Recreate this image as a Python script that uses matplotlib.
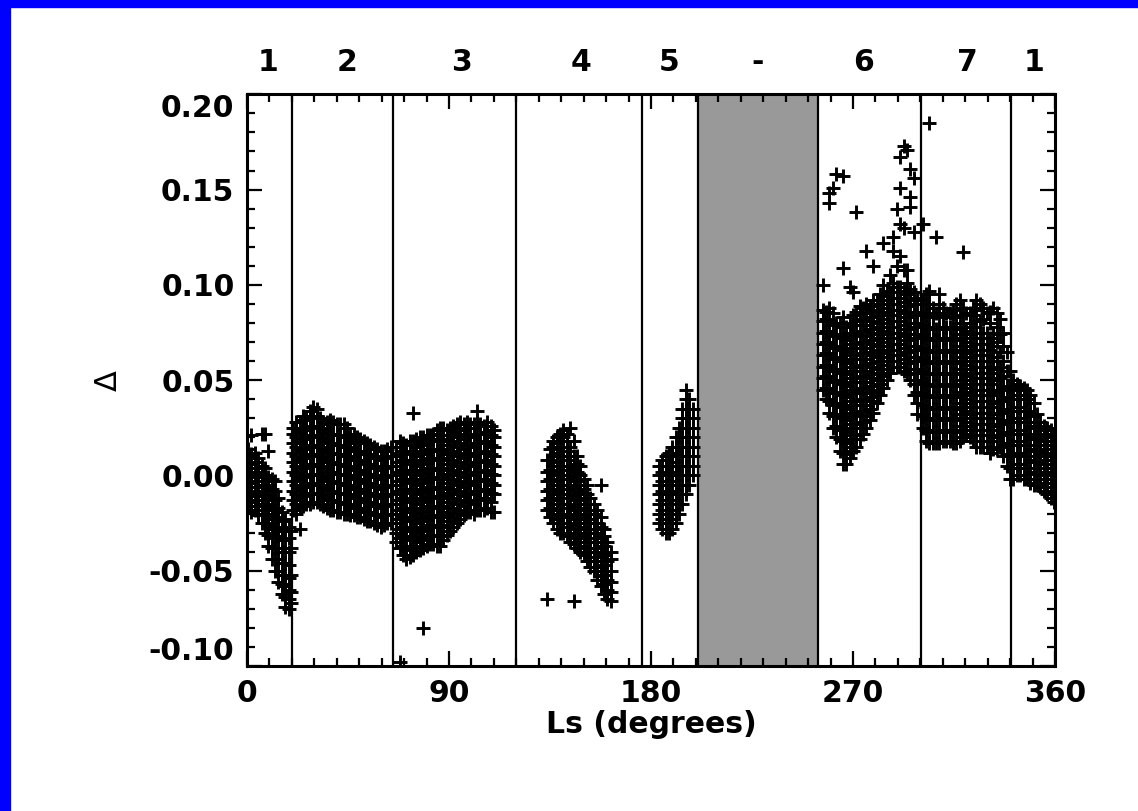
import matplotlib
matplotlib.use('Agg')
import matplotlib.pyplot as plt
from matplotlib.patches import Rectangle
from matplotlib.ticker import MultipleLocator, FixedLocator

# Ls column -> Delta values (in units of 0.001)
seg1 = {
    0.5: [-16, -11, -6, -1, 4, 9, 14],
    2: [-19, -14, -9, -4, 1, 6, 11, 21],
    3.5: [-18, -13, -8, -3, 2, 7, 12],
    5: [-21, -16, -11, -6, -1, 4, 9],
    6.5: [-25, -20, -15, -10, -5, 0, 5, 22],
    8: [-30, -25, -20, -15, -10, -5, 0, 4, 22],
    9.5: [-37, -31, -26, -21, -16, -11, -6, -1, 13],
    11: [-44, -38, -32, -27, -22, -17, -12, -7, -2],
    12.5: [-50, -44, -38, -33, -28, -23, -18, -13, -8, -3],
    14: [-56, -50, -44, -38, -32, -27, -22, -17, -12],
    15.5: [-62, -57, -52, -46, -40, -34, -29, -24, -19],
    17: [-69, -64, -58, -52, -46, -40, -34, -28, -23],
    18.5: [-70, -65, -60, -54, -47, -40, -33, -27],
    19.5: [-67, -61, -52, -38, -29],
}
seg2 = {
    20.5: [-18, -13, -8, -3, 2, 7, 12, 17, 22, 25],
    22: [-20, -15, -10, -5, 0, 5, 10, 15, 20, 25, 28],
    23.5: [-28, -17, -12, -7, -2, 3, 8, 13, 18, 23, 28],
    25: [-16, -11, -6, -1, 4, 9, 14, 19, 24, 29, 31],
    26.5: [-15, -10, -5, 0, 5, 10, 15, 20, 25, 30],
    28: [-15, -10, -5, 0, 5, 10, 15, 20, 25, 30, 34],
    29.5: [-14, -9, -4, 1, 6, 11, 16, 21, 26, 31, 36],
    31: [-14, -9, -4, 1, 6, 11, 16, 21, 26, 31, 35],
    32.5: [-15, -10, -5, 0, 5, 10, 15, 20, 25, 30],
    34: [-16, -11, -6, -1, 4, 9, 14, 19, 24, 28],
    35.5: [-17, -12, -7, -2, 3, 8, 13, 18, 23, 28],
    37: [-18, -13, -8, -3, 2, 7, 12, 17, 22, 27, 29],
    38.5: [-18, -13, -8, -3, 2, 7, 12, 17, 22, 28],
    40: [-19, -14, -9, -4, 1, 6, 11, 16, 21, 27],
    41.5: [-19, -14, -9, -4, 1, 6, 11, 16, 21, 27],
    43: [-20, -15, -10, -5, 0, 5, 10, 15, 20, 27],
    44.5: [-20, -15, -10, -5, 0, 5, 10, 15, 20, 25],
    46: [-21, -16, -11, -6, -1, 4, 9, 14, 19, 22],
    47.5: [-21, -16, -11, -6, -1, 4, 9, 14, 18, 22],
    49: [-22, -17, -12, -7, -2, 3, 8, 13, 17, 20],
    50.5: [-22, -17, -12, -7, -2, 3, 8, 13, 19],
    52: [-23, -18, -13, -8, -3, 2, 7, 12, 18],
    53.5: [-24, -19, -14, -9, -4, 1, 6, 11, 17],
    55: [-24, -19, -14, -9, -4, 1, 6, 11, 16],
    56.5: [-25, -20, -15, -10, -5, 0, 5, 10, 15],
    58: [-26, -21, -16, -11, -6, -1, 4, 9, 14],
    59.5: [-27, -22, -17, -12, -7, -2, 3, 8, 13],
    61: [-26, -21, -16, -11, -6, -1, 4, 9, 13],
    62.5: [-25, -20, -15, -10, -5, 0, 5, 10, 14],
    64: [-25, -20, -15, -10, -5, 0, 5, 10, 15],
}
seg3 = {
    66.5: [-35, -30, -25, -20, -15, -10, -5, 0, 5, 10, 15],
    68: [-98, -38, -33, -28, -23, -18, -13, -8, -3, 2, 7, 12, 18],
    69.5: [-42, -37, -32, -27, -22, -17, -12, -7, -2, 3, 8, 13, 17],
    71: [-44, -39, -34, -29, -24, -19, -14, -9, -4, 1, 6, 11, 16],
    72.5: [-43, -38, -33, -28, -23, -18, -13, -8, -3, 2, 7, 12, 18],
    74: [-42, -37, -32, -27, -22, -17, -12, -7, -2, 3, 8, 13, 18, 33],
    75.5: [-40, -35, -30, -25, -20, -15, -10, -5, 0, 5, 10, 15, 19],
    77: [-39, -34, -29, -24, -19, -14, -9, -4, 1, 6, 11, 16, 20],
    78.5: [-80, -38, -33, -28, -23, -18, -13, -8, -3, 2, 7, 12, 17, 20],
    80: [-37, -32, -27, -22, -17, -12, -7, -2, 3, 8, 13, 18, 21],
    81.5: [-36, -31, -26, -21, -16, -11, -6, -1, 4, 9, 14, 19, 21],
    83: [-36, -31, -26, -21, -16, -11, -6, -1, 4, 9, 14, 19, 22],
    84.5: [-37, -32, -27, -22, -17, -12, -7, -2, 3, 8, 13, 18, 24],
    86: [-37, -32, -27, -22, -17, -12, -7, -2, 3, 8, 13, 18, 25],
    87.5: [-34, -29, -24, -19, -14, -9, -4, 1, 6, 11, 16, 21, 25],
    89: [-31, -26, -21, -16, -11, -6, -1, 4, 9, 14, 19, 24],
    90.5: [-29, -24, -19, -14, -9, -4, 1, 6, 11, 16, 21, 25],
    92: [-27, -22, -17, -12, -7, -2, 3, 8, 13, 18, 23, 26],
    93.5: [-25, -20, -15, -10, -5, 0, 5, 10, 15, 20, 24, 27],
    95: [-23, -18, -13, -8, -3, 2, 7, 12, 17, 22, 28],
    96.5: [-21, -16, -11, -6, -1, 4, 9, 14, 19, 24, 27],
    98: [-19, -14, -9, -4, 1, 6, 11, 16, 21, 25, 28],
    99.5: [-19, -14, -9, -4, 1, 6, 11, 16, 21, 27],
    101: [-20, -15, -10, -5, 0, 5, 10, 15, 20, 25, 27],
    102.5: [-18, -13, -8, -3, 2, 7, 12, 17, 22, 28, 34],
    104: [-18, -13, -8, -3, 2, 7, 12, 17, 22, 27],
    105.5: [-18, -13, -8, -3, 2, 7, 12, 17, 22, 26],
    107: [-17, -12, -7, -2, 3, 8, 13, 18, 23, 28],
    108.5: [-19, -14, -9, -4, 1, 6, 11, 16, 21, 26],
    110: [-19, -10, -5, 0, 5, 10, 15, 20, 24],
}
seg4 = {
    133.5: [-65, -18, -13, -8, -3, 2, 8],
    135: [-22, -17, -12, -7, -2, 3, 8, 14],
    136.5: [-25, -20, -15, -10, -5, 0, 5, 10, 15, 18],
    138: [-28, -23, -18, -13, -8, -3, 2, 7, 12, 17, 20],
    139.5: [-30, -25, -20, -15, -10, -5, 0, 5, 10, 15, 22],
    141: [-30, -25, -20, -15, -10, -5, 0, 5, 10, 15, 20, 24],
    142.5: [-32, -27, -22, -17, -12, -7, -2, 3, 8, 13, 18, 22],
    144: [-35, -30, -25, -20, -15, -10, -5, 0, 5, 10, 15, 25],
    145.5: [-66, -36, -31, -26, -21, -16, -11, -6, -1, 4, 10, 18],
    147: [-38, -33, -28, -23, -18, -13, -8, -3, 2, 6, 10],
    148.5: [-40, -35, -30, -25, -20, -15, -10, -5, 0, 5],
    150: [-42, -37, -32, -27, -22, -17, -12, -7, -2],
    151.5: [-45, -40, -35, -30, -25, -20, -15, -10, -5],
    153: [-48, -43, -38, -33, -28, -23, -18, -12],
    154.5: [-50, -45, -40, -35, -30, -25, -20, -15],
    156: [-55, -50, -45, -40, -35, -30, -25, -18],
    157.5: [-58, -53, -48, -43, -38, -33, -27, -22, -5],
    159: [-62, -57, -52, -47, -42, -37, -32, -28],
    160.5: [-65, -60, -55, -50, -45, -40, -35],
    162: [-66, -61, -56, -50, -44, -40],
}
seg5 = {
    183.5: [-25, -20, -15, -10, -5, 0, 5],
    185: [-28, -23, -18, -13, -8, -3, 2, 8],
    186.5: [-30, -25, -20, -15, -10, -5, 0, 5, 10],
    188: [-30, -25, -20, -15, -10, -5, 0, 5, 10, 12],
    189.5: [-28, -23, -18, -13, -8, -3, 2, 7, 12, 15],
    191: [-25, -20, -15, -10, -5, 0, 5, 10, 15, 20],
    192.5: [-20, -15, -10, -5, 0, 5, 10, 15, 20, 25],
    194: [-15, -10, -5, 0, 5, 10, 15, 20, 25, 30, 35],
    195.5: [-10, -5, 0, 5, 10, 15, 20, 25, 30, 35, 40, 45],
    197: [-5, 0, 5, 10, 15, 20, 25, 30, 35, 40],
    198.5: [0, 5, 10, 15, 20, 25, 30, 35],
}
seg6 = {
    256.5: [45, 51, 57, 63, 69, 75, 81, 87, 100],
    258: [40, 46, 52, 58, 64, 70, 76, 82, 86],
    259.5: [33, 39, 45, 51, 57, 63, 69, 75, 81, 88, 143, 148],
    261: [25, 31, 37, 43, 49, 55, 61, 67, 73, 79, 85, 151],
    262.5: [20, 26, 32, 38, 44, 50, 56, 62, 68, 74, 80, 158],
    264: [13, 19, 25, 31, 37, 43, 49, 55, 61, 67, 73, 80],
    265.5: [6, 12, 18, 24, 30, 36, 42, 48, 54, 60, 66, 72, 78, 83, 109, 157],
    267: [6, 11, 17, 23, 29, 35, 41, 47, 53, 59, 65, 71, 78],
    268.5: [9, 15, 21, 27, 33, 39, 45, 51, 57, 63, 69, 75, 80, 99],
    270: [13, 19, 25, 31, 37, 43, 49, 55, 61, 67, 73, 79, 84, 96],
    271.5: [15, 21, 27, 33, 39, 45, 51, 57, 63, 69, 75, 81, 86, 138],
    273: [19, 25, 31, 37, 43, 49, 55, 61, 67, 73, 79, 85, 89],
    274.5: [22, 28, 34, 40, 46, 52, 58, 64, 70, 76, 82, 88],
    276: [25, 31, 37, 43, 49, 55, 61, 67, 73, 79, 85, 90, 118],
    277.5: [29, 35, 41, 47, 53, 59, 65, 71, 77, 83, 89],
    279: [33, 39, 45, 51, 57, 63, 69, 75, 81, 87, 92, 110],
    280.5: [38, 44, 50, 56, 62, 68, 74, 80, 86, 92],
    282: [42, 48, 54, 60, 66, 72, 78, 84, 90, 95],
    283.5: [46, 52, 58, 64, 70, 76, 82, 88, 94, 100, 122],
    285: [50, 56, 62, 68, 74, 80, 86, 92, 97],
    286.5: [54, 60, 66, 72, 78, 84, 90, 96, 105],
    288: [57, 63, 69, 75, 81, 87, 93, 99, 101, 118, 125],
    289.5: [57, 63, 69, 75, 81, 87, 93, 99, 110, 140],
    291: [57, 63, 69, 75, 81, 87, 93, 99, 115, 132, 151, 167],
    292.5: [55, 61, 67, 73, 79, 85, 91, 97, 108, 130, 173],
    294: [53, 59, 65, 71, 77, 83, 89, 95, 101, 108, 171],
    295.5: [50, 56, 62, 68, 74, 80, 86, 92, 98, 141, 146, 161],
    297: [42, 48, 54, 60, 66, 72, 78, 84, 90, 96, 128, 156],
    298.5: [32, 38, 44, 50, 56, 62, 68, 74, 80, 86, 93],
}
seg7 = {
    301: [25, 31, 37, 43, 49, 55, 61, 67, 73, 79, 85, 92, 132],
    302.5: [18, 24, 30, 36, 42, 48, 54, 60, 66, 72, 78, 84, 90, 95],
    304: [17, 23, 29, 35, 41, 47, 53, 59, 65, 71, 77, 83, 90, 97, 185],
    305.5: [17, 23, 29, 35, 41, 47, 53, 59, 65, 71, 77, 83, 88],
    307: [17, 23, 29, 35, 41, 47, 53, 59, 65, 71, 77, 85, 125],
    308.5: [17, 23, 29, 35, 41, 47, 53, 59, 65, 71, 77, 83, 90, 95],
    310: [18, 24, 30, 36, 42, 48, 54, 60, 66, 72, 78, 84, 88],
    311.5: [18, 24, 30, 36, 42, 48, 54, 60, 66, 72, 78, 85],
    313: [18, 24, 30, 36, 42, 48, 54, 60, 66, 72, 78, 85],
    314.5: [17, 23, 29, 35, 41, 47, 53, 59, 65, 71, 77, 83, 87],
    316: [17, 23, 29, 35, 41, 47, 53, 59, 65, 71, 77, 83, 90],
    317.5: [18, 24, 30, 36, 42, 48, 54, 60, 66, 72, 78, 84, 92],
    319: [20, 26, 32, 38, 44, 50, 56, 62, 68, 74, 80, 88, 117],
    320.5: [22, 28, 34, 40, 46, 52, 58, 64, 70, 76, 85],
    322: [20, 26, 32, 38, 44, 50, 56, 62, 68, 74, 80, 85],
    323.5: [18, 24, 30, 36, 42, 48, 54, 60, 66, 72, 78, 84, 88],
    325: [15, 21, 27, 33, 39, 45, 51, 57, 63, 69, 75, 81, 87, 92],
    326.5: [15, 21, 27, 33, 39, 45, 51, 57, 63, 69, 75, 81, 90],
    328: [15, 21, 27, 33, 39, 45, 51, 57, 63, 69, 75, 82, 88],
    329.5: [15, 21, 27, 33, 39, 45, 51, 57, 63, 69, 75, 85],
    331: [12, 18, 24, 30, 36, 42, 48, 54, 60, 66, 72, 80, 86],
    332.5: [14, 20, 26, 32, 38, 44, 50, 56, 62, 68, 75, 88],
    334: [14, 20, 26, 32, 38, 44, 50, 56, 62, 70, 78, 85],
    335.5: [15, 21, 27, 33, 39, 45, 51, 57, 65, 74, 82],
    337: [10, 16, 22, 28, 34, 40, 46, 52, 60, 68, 75],
    338.5: [5, 11, 17, 23, 29, 35, 41, 47, 55, 65],
    340: [-2, 4, 10, 16, 22, 28, 34, 40, 46, 55],
}
seg8 = {
    341.5: [-2, 4, 10, 16, 22, 28, 34, 40, 45, 50],
    343: [0, 6, 12, 18, 24, 30, 36, 42, 48],
    344.5: [0, 6, 12, 18, 24, 30, 36, 42, 47],
    346: [-2, 4, 10, 16, 22, 28, 34, 40, 46],
    347.5: [-2, 4, 10, 16, 22, 28, 34, 40, 45],
    349: [-4, 2, 8, 14, 20, 26, 32, 38, 42],
    350.5: [-5, 1, 7, 13, 19, 25, 31, 38],
    352: [-5, 1, 7, 13, 19, 25, 32],
    353.5: [-6, 0, 6, 12, 18, 24, 28],
    355: [-8, -2, 4, 10, 16, 22, 26],
    356.5: [-10, -4, 2, 8, 14, 20, 25],
    358: [-12, -6, 0, 6, 12, 18, 24],
    359.5: [-14, -8, -2, 4, 10, 16, 22],
}

boundaries = [20, 65, 120, 176, 300.5, 340.5]
no_data = (201, 254.5)
seg_names = ['1', '2', '3', '4', '5', '-', '6', '7', '1']
seg_name_ls = [9.5, 44.5, 95.5, 149, 188, 227.5, 274.5, 321, 350.5]

ls, delta = [], []
for seg in [seg1, seg2, seg3, seg4, seg5, seg6, seg7, seg8]:
    for x, vals in seg.items():
        for v in vals:
            ls.append(x)
            delta.append(v / 1000.0)

fig = plt.figure(figsize=(11.38, 8.11), dpi=100)
fig.patch.set_facecolor('white')
# blue frame strips (top and left)
fig.patches.append(Rectangle((0, 0), 10 / 1138, 1, transform=fig.transFigure,
                             color='#0000ff', zorder=0))
fig.patches.append(Rectangle((0, 1 - 7 / 811), 1, 7 / 811, transform=fig.transFigure,
                             color='#0000ff', zorder=0))

ax = fig.add_axes([247 / 1138, 1 - 666 / 811, 808 / 1138, 571.7 / 811])
ax.axvspan(no_data[0], no_data[1], color='#999999', zorder=1, lw=0)
for b in boundaries + list(no_data):
    ax.axvline(b, color='black', lw=1.6, zorder=2)
ax.plot(ls, delta, '+', color='black', ms=9.5, mew=2.1, zorder=3)

ax.set_xlim(0, 360)
ax.set_ylim(-0.10, 0.20)
ax.xaxis.set_major_locator(FixedLocator([0, 90, 180, 270, 360]))
ax.xaxis.set_minor_locator(MultipleLocator(10))
ax.yaxis.set_major_locator(MultipleLocator(0.05))
ax.yaxis.set_minor_locator(MultipleLocator(0.01))
ax.tick_params(which='both', direction='in', top=True, right=True, width=1.6)
ax.tick_params(which='major', length=11, labelsize=21.5, pad=9)
ax.tick_params(which='minor', length=6)
for s in ax.spines.values():
    s.set_linewidth(2.2)
    s.set_zorder(4)

ax.set_yticks([-0.10, -0.05, 0.0, 0.05, 0.10, 0.15, 0.20])
ax.set_yticklabels(['%.2f' % v for v in [-0.10, -0.05, 0.0, 0.05, 0.10, 0.15, 0.20]])
for lab in ax.get_xticklabels() + ax.get_yticklabels():
    lab.set_fontweight('bold')
ylabs = ax.get_yticklabels()
ylabs[0].set_verticalalignment('bottom')
ylabs[-1].set_verticalalignment('top')

for name, x in zip(seg_names, seg_name_ls):
    ax.text(x, 0.2 + 32 / 1906.7, name, ha='center', va='center',
            fontsize=21.5, fontweight='bold')

ax.set_xlabel('Ls (degrees)', fontsize=21.5, fontweight='bold', labelpad=2)
fig.text(108 / 1138, 1 - 381 / 811, '\u0394', rotation=90, fontsize=22,
         ha='center', va='center')

fig.savefig('out.png', dpi=100)
